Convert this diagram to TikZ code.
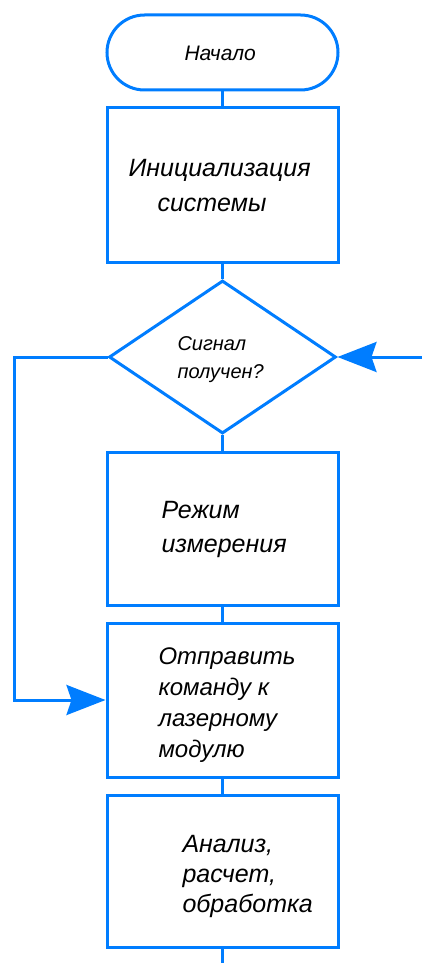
\documentclass[tikz,border=0pt]{standalone}
\usepackage{fontspec}
\setmainfont{Liberation Sans}
\usetikzlibrary{shapes.geometric,shapes.misc,arrows.meta}
\definecolor{flowblue}{RGB}{0,125,255}
\newcommand{\txtsize}[2]{\fontsize{#1pt}{#2pt}\selectfont\itshape}
\begin{document}
\begin{tikzpicture}[x=1pt,y=-1pt,
  line width=3pt,
  shapebox/.style={draw=flowblue, rectangle, minimum width=231pt, inner sep=0pt},
  termbox/.style={draw=flowblue, rounded rectangle, minimum width=231pt, minimum height=75pt, inner sep=0pt},
  decbox/.style={draw=flowblue, diamond, minimum width=227pt, minimum height=153pt, inner sep=0pt},
  lbl/.style={anchor=base west, inner sep=0pt, text=black},
  conn/.style={draw=flowblue, line width=3pt},
  arr/.style={conn, -{Stealth[length=39pt, width=30pt, inset=5pt]}}]
\useasboundingbox (0,0) rectangle (422,963);
% shapes
\node[termbox] (start) at (222.5,52.5) {};
\node[shapebox, minimum height=154pt] (init) at (222.5,185) {};
\node[decbox] (sig) at (222.5,357) {};
\node[shapebox, minimum height=153pt] (mode) at (222.5,528.5) {};
\node[shapebox, minimum height=154pt] (send) at (222.5,700) {};
\node[shapebox, minimum height=152pt] (anal) at (222.5,871) {};
% texts
\node[lbl] (tstart) at (183,61) {\txtsize{21}{25}Начало};
\node[lbl] (tinit) at (127,176) {\txtsize{25}{35}\vtop{\hbox{Инициализация}\hbox{\hskip29pt системы}}};
\node[lbl] (tsig) at (176,350) {\txtsize{20}{28}\vtop{\hbox{Сигнал}\hbox{получен?}}};
\node[lbl] (tmode) at (160,518) {\txtsize{25}{34}\vtop{\hbox{Режим}\hbox{измерения}}};
\node[lbl] (tsend) at (157,664) {\txtsize{24}{31}\vtop{\hbox{Отправить}\hbox{команду к}\hbox{лазерному}\hbox{модулю}}};
\node[lbl] (tanal) at (181,852) {\txtsize{25}{30}\vtop{\hbox{Анализ,}\hbox{расчет,}\hbox{обработка}}};
% connectors
\coordinate (rin) at (422,357);
\coordinate (lft1) at (14,357);
\coordinate (lft2) at (14,700);
\coordinate (bot) at (222.5,963);
\draw[conn] (start) -- (init);
\draw[conn] (init) -- (sig);
\draw[conn] (sig) -- (mode);
\draw[conn] (mode) -- (send);
\draw[conn] (send) -- (anal);
\draw[conn] (anal) -- (bot);
\draw[arr] (rin) -- (sig.east);
\draw[arr] (sig.west) -- (lft1) -- (lft2) -- (send.west);
\end{tikzpicture}
\end{document}
